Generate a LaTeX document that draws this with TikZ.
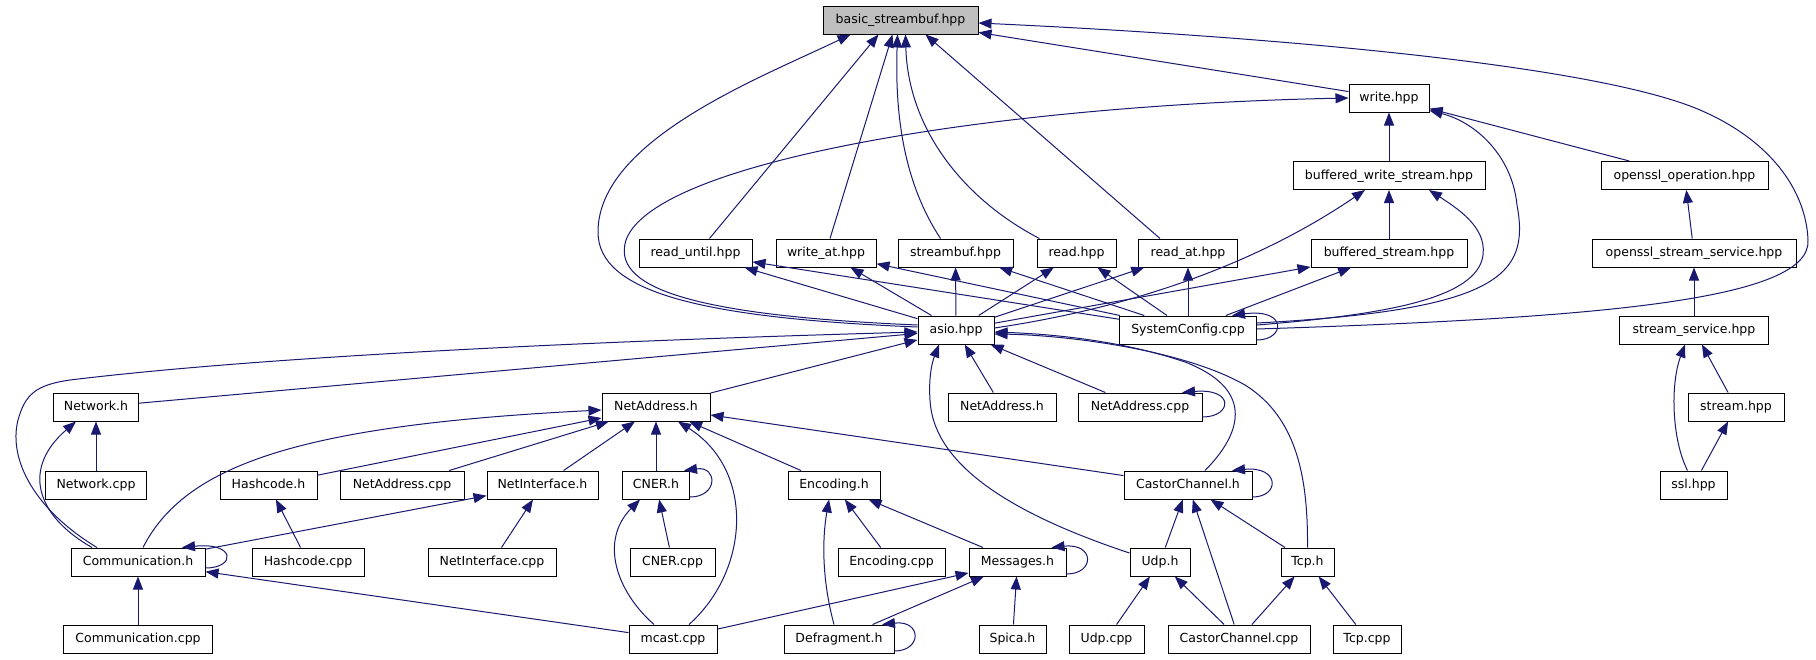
\documentclass[tikz,border=0pt]{standalone}
\usepackage{fontspec}
\setmainfont{DejaVu Sans}
\usetikzlibrary{arrows.meta}
\definecolor{edgec}{RGB}{25,25,112}
\definecolor{rootfill}{RGB}{191,191,191}
\tikzset{
  box/.style={draw=black, line width=1pt, fill=white, minimum height=28pt, inner sep=0pt,
    font=\fontsize{12.5}{14}\selectfont, text height=9.5pt, text depth=2.5pt},
  rootbox/.style={box, fill=rootfill},
  e/.style={draw=edgec, line width=1pt, -{Triangle[length=13pt,width=10pt]}}
}
\newcommand\nd[6][box]{\node[#1, minimum width=#5pt] (#2) at (#3,#4) {#6};}
\begin{document}
\begin{tikzpicture}[x=1pt,y=-1pt]
\fill[white] (0,0) rectangle (1816,659);
\useasboundingbox (0,0) rectangle (1816,659);
% nodes
\nd[rootbox]{basic}{900.5}{20}{155}{basic\_streambuf.hpp}
\nd{write}{1389}{98}{80}{write.hpp}
\nd{bws}{1389}{175.5}{192}{buffered\_write\_stream.hpp}
\nd{oop}{1684.5}{175.5}{167}{openssl\_operation.hpp}
\nd{rduntil}{695.5}{253}{113}{read\_until.hpp}
\nd{wrat}{826}{253}{100}{write\_at.hpp}
\nd{sbuf}{955.5}{253}{115}{streambuf.hpp}
\nd{rd}{1076.5}{253}{79}{read.hpp}
\nd{rdat}{1188}{253}{99}{read\_at.hpp}
\nd{bstream}{1389}{253}{156}{buffered\_stream.hpp}
\nd{osss}{1694}{253}{204}{openssl\_stream\_service.hpp}
\nd{asio}{956}{330}{76}{asio.hpp}
\nd{sysconf}{1188}{330}{137}{SystemConfig.cpp}
\nd{ssvc}{1694}{330}{149}{stream\_service.hpp}
\nd{network}{96}{407}{85}{Network.h}
\nd{netaddr}{656}{407}{108}{NetAddress.h}
\nd{netaddrb}{1002}{407}{108}{NetAddress.h}
\nd{nacppb}{1140}{407}{124}{NetAddress.cpp}
\nd{stream}{1736}{407}{96}{stream.hpp}
\nd{networkcpp}{96}{485}{101}{Network.cpp}
\nd{hashh}{268.5}{485}{97}{Hashcode.h}
\nd{nacpp}{402}{485}{124}{NetAddress.cpp}
\nd{netif}{542.5}{485}{111}{NetInterface.h}
\nd{cnerh}{656}{485}{67}{CNER.h}
\nd{ench}{834}{485}{92}{Encoding.h}
\nd{cch}{1188}{485}{128}{CastorChannel.h}
\nd{ssl}{1693.5}{485}{67}{ssl.hpp}
\nd{commh}{138}{562}{134}{Communication.h}
\nd{hashcpp}{308}{562}{112}{Hashcode.cpp}
\nd{netifcpp}{492}{562}{128}{NetInterface.cpp}
\nd{cnercpp}{672.5}{562}{85}{CNER.cpp}
\nd{enccpp}{891.5}{562}{107}{Encoding.cpp}
\nd{msgh}{1017.5}{562}{97}{Messages.h}
\nd{udph}{1160}{562}{60}{Udp.h}
\nd{tcph}{1307.5}{562}{53}{Tcp.h}
\nd{commcpp}{138}{639}{149}{Communication.cpp}
\nd{mcast}{673}{639}{88}{mcast.cpp}
\nd{defrag}{839}{639}{110}{Defragment.h}
\nd{spica}{1012.5}{639}{67}{Spica.h}
\nd{udpcpp}{1106.5}{639}{75}{Udp.cpp}
\nd{cccpp}{1239}{639}{142}{CastorChannel.cpp}
\nd{tcpcpp}{1367}{639}{68}{Tcp.cpp}
% edges into basic_streambuf
\draw[e] ([yshift=3]asio.west) .. controls (700,318) and (598,292) .. (598,232) .. controls (598,140) and (760,78) .. ([xshift=-50]basic.south);
\draw[e] ([xshift=14]rduntil.north) -- ([xshift=-22]basic.south);
\draw[e] ([xshift=4]wrat.north) -- ([xshift=-8]basic.south);
\draw[e] ([xshift=-15]sbuf.north) .. controls (902,180) and (895,110) .. ([xshift=-3]basic.south);
\draw[e] ([xshift=-37]rd.north) .. controls (965,200) and (908,130) .. ([xshift=5]basic.south);
\draw[e] ([xshift=-28]rdat.north) -- ([xshift=25]basic.south);
\draw[e] (write) -- (basic);
\draw[e] ([yshift=1]sysconf.east) .. controls (1600,318) and (1812,300) .. (1808,240) .. controls (1806,190) and (1770,140) .. (1700,110) .. controls (1600,67) and (1300,38) .. ([yshift=-3]basic.east);
% into write.hpp
\draw[e] ([yshift=5]asio.west) .. controls (680,315) and (612,285) .. (626,240) .. controls (655,160) and (1000,105) .. (write.west);
\draw[e] (bws) -- (write);
\draw[e] (oop) -- (write);
\draw[e] ([yshift=7]sysconf.east) .. controls (1500,310) and (1530,275) .. (1517,205) .. controls (1512,155) and (1475,122) .. ([yshift=2]write.south east);
% into buffered_write_stream
\draw[e] (bstream) -- (bws);
\draw[e] ([yshift=2]asio.east) .. controls (1150,305) and (1270,255) .. ([xshift=-24]bws.south);
\draw[e] ([yshift=5]sysconf.east) .. controls (1380,315) and (1470,300) .. (1482,260) .. controls (1490,230) and (1460,210) .. ([xshift=40]bws.south);
% ssl chain
\draw[e] (osss) -- (oop);
\draw[e] (ssvc) -- (osss);
\draw[e] (stream) -- (ssvc);
\draw[e] ([xshift=-6]ssl.north) .. controls (1672,440) and (1670,385) .. ([xshift=-9]ssvc.south);
\draw[e] (ssl) -- (stream);
% row 3 from asio and SystemConfig
\draw[e] (asio) -- (rduntil);
\draw[e] (asio) -- (wrat);
\draw[e] (asio) -- (sbuf);
\draw[e] (asio) -- (rd);
\draw[e] (asio) -- (rdat);
\draw[e] (asio) -- (bstream);
\draw[e] (sysconf) -- (rduntil);
\draw[e] (sysconf) -- (wrat);
\draw[e] (sysconf) -- (sbuf);
\draw[e] (sysconf) -- (rd);
\draw[e] (sysconf) -- (rdat);
\draw[e] (sysconf) -- (bstream);
\draw[e] ([yshift=-10]sysconf.east) .. controls (1285,340) and (1288,308) .. ([xshift=44]sysconf.north);
% into asio
\draw[e] (network) -- (asio);
\draw[e] ([xshift=-41]commh.north) .. controls (35,510) and (8,460) .. (18,420) .. controls (25,395) and (35,385) .. (70,380) .. controls (300,352) and (700,338) .. ([yshift=-2]asio.west);
\draw[e] (netaddr) -- (asio);
\draw[e] (netaddrb) -- (asio);
\draw[e] (nacppb) -- (asio);
\draw[e] ([yshift=-10]nacppb.east) .. controls (1232,417) and (1235,388) .. ([xshift=42]nacppb.north);
\draw[e] ([xshift=17]cch.north) .. controls (1245,430) and (1252,388) .. (1185,362) .. controls (1120,340) and (1050,334) .. ([yshift=-2]asio.east);
\draw[e] (tcph.north) .. controls (1308,480) and (1298,418) .. (1245,385) .. controls (1180,348) and (1060,335) .. ([yshift=-4]asio.east);
\draw[e] ([yshift=9]udph.west) .. controls (1000,510) and (933,460) .. (930,400) .. controls (928,370) and (935,355) .. ([xshift=-17]asio.south);
% Network.h
\draw[e] (networkcpp) -- (network);
\draw[e] ([xshift=-46]commh.north) .. controls (35,515) and (22,468) .. ([xshift=-20]network.south);
% NetAddress.h
\draw[e] ([xshift=5]commh.north) .. controls (185,465) and (300,425) .. ([yshift=-3]netaddr.west);
\draw[e] (hashh) -- (netaddr);
\draw[e] (nacpp) -- (netaddr);
\draw[e] (netif) -- (netaddr);
\draw[e] (cnerh) -- (netaddr);
\draw[e] ([xshift=16]mcast.north) .. controls (750,570) and (755,470) .. ([xshift=22]netaddr.south);
\draw[e] (ench) -- (netaddr);
\draw[e] (cch) -- (netaddr);
% NetInterface.h, Hashcode.h
\draw[e] (commh) -- (netif);
\draw[e] (netifcpp) -- (netif);
\draw[e] (hashcpp) -- (hashh);
% Communication.h
\draw[e] (commcpp) -- (commh);
\draw[e] (mcast) -- (commh);
\draw[e] ([yshift=-6]commh.east) .. controls (236,568) and (236,542) .. ([xshift=44]commh.north);
% CNER.h
\draw[e] (cnercpp) -- (cnerh);
\draw[e] ([xshift=-19]mcast.north) .. controls (615,590) and (600,540) .. ([xshift=-16]cnerh.south);
\draw[e] ([yshift=-12]cnerh.east) .. controls (718,497) and (718,466) .. ([xshift=28]cnerh.north);
% Encoding.h
\draw[e] (enccpp) -- (ench);
\draw[e] (msgh) -- (ench);
\draw[e] ([xshift=-5]defrag.north) .. controls (822,580) and (822,540) .. ([xshift=-5]ench.south);
% Messages.h
\draw[e] (mcast) -- (msgh);
\draw[e] (defrag) -- (msgh);
\draw[e] (spica) -- (msgh);
\draw[e] ([yshift=-12]msgh.east) .. controls (1095,574) and (1095,543) .. ([xshift=34]msgh.north);
\draw[e] ([yshift=-12]defrag.east) .. controls (922,651) and (922,620) .. ([xshift=43]defrag.north);
% CastorChannel.h
\draw[e] (udph) -- (cch);
\draw[e] (cccpp) -- (cch);
\draw[e] (tcph) -- (cch);
\draw[e] ([yshift=-12]cch.east) .. controls (1280,497) and (1280,466) .. ([xshift=44]cch.north);
% Udp.h, Tcp.h
\draw[e] (udpcpp) -- (udph);
\draw[e] (cccpp) -- (udph);
\draw[e] (cccpp) -- (tcph);
\draw[e] (tcpcpp) -- (tcph);
\end{tikzpicture}
\end{document}
